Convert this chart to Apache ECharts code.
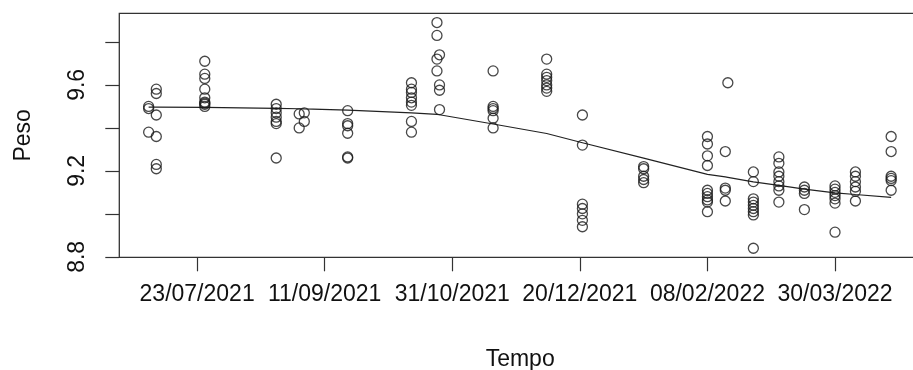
<!DOCTYPE html>
<html>
<head>
<meta charset="utf-8">
<style>
  html, body { margin: 0; padding: 0; background: #fff; }
  #chart { width: 913px; height: 370px; }
</style>
<script src="https://cdn.jsdelivr.net/npm/echarts@6/dist/echarts.min.js"></script>
</head>
<body>
<div id="chart"></div>
<script>
// Weighing dates (dd/mm/yyyy)
const sampleDates = [
  '04/07/2021', '07/07/2021', '26/07/2021', '23/08/2021', '01/09/2021', '03/09/2021',
  '20/09/2021', '15/10/2021', '25/10/2021', '26/10/2021', '16/11/2021', '07/12/2021',
  '21/12/2021', '14/01/2022', '08/02/2022', '15/02/2022', '16/02/2022', '26/02/2022',
  '08/03/2022', '18/03/2022', '30/03/2022', '07/04/2022', '21/04/2022'
];

// Individual weights recorded on each date
const weightsByDate = [
  [9.50, 9.49, 9.38],
  [9.58, 9.56, 9.46, 9.36, 9.23, 9.21],
  [9.71, 9.65, 9.63, 9.58, 9.54, 9.52, 9.515, 9.51, 9.50],
  [9.51, 9.49, 9.47, 9.45, 9.43, 9.42, 9.26],
  [9.465, 9.40],
  [9.47, 9.43],
  [9.48, 9.42, 9.41, 9.375, 9.265, 9.26],
  [9.61, 9.58, 9.565, 9.54, 9.52, 9.505, 9.43, 9.38],
  [9.89, 9.83, 9.72, 9.665],
  [9.74, 9.60, 9.575, 9.485],
  [9.665, 9.50, 9.49, 9.48, 9.445, 9.40],
  [9.72, 9.65, 9.635, 9.62, 9.60, 9.585, 9.57],
  [9.46, 9.32, 9.045, 9.025, 9.00, 8.97, 8.94],
  [9.22, 9.21, 9.175, 9.16, 9.145],
  [9.36, 9.325, 9.27, 9.225, 9.11, 9.095, 9.08, 9.065, 9.055, 9.01],
  [9.29, 9.12, 9.11, 9.06],
  [9.61],
  [9.195, 9.15, 9.07, 9.055, 9.04, 9.025, 9.01, 8.995, 8.84],
  [9.265, 9.235, 9.195, 9.175, 9.15, 9.13, 9.11, 9.055],
  [9.125, 9.11, 9.095, 9.02],
  [9.13, 9.115, 9.10, 9.085, 9.07, 9.05, 8.915],
  [9.195, 9.175, 9.15, 9.125, 9.105, 9.06],
  [9.36, 9.29, 9.175, 9.165, 9.155, 9.11]
];

// Smoothed trend evaluated at each date
const fittedWeight = [
  9.497, 9.497, 9.495, 9.491, 9.489, 9.488, 9.483, 9.470, 9.463, 9.461, 9.418, 9.374,
  9.331, 9.259, 9.184, 9.172, 9.170, 9.149, 9.133, 9.115, 9.098, 9.090, 9.077
];

// Axis ticks
const xTickLabels = ['23/07/2021', '11/09/2021', '31/10/2021', '20/12/2021', '08/02/2022', '30/03/2022'];
const yTicks = [8.8, 9.0, 9.2, 9.4, 9.6, 9.8];
const yTickLabels = [8.8, 9.2, 9.6];

// Dates are placed on a day scale counted from the first x tick
function dayNumber(s) {
  const [d, m, y] = s.split('/').map(Number);
  return Math.round(Date.UTC(y, m - 1, d) / 86400000);
}
const day0 = dayNumber(xTickLabels[0]);
const toX = s => dayNumber(s) - day0;

const points = [];
sampleDates.forEach((d, i) => {
  weightsByDate[i].forEach(w => points.push([toX(d), w]));
});
const trend = sampleDates.map((d, i) => [toX(d), fittedWeight[i]]);
const xTicks = xTickLabels.map(toX);

const FONT = 'Liberation Sans, Arial, sans-serif';
const ink = '#111';

const chart = echarts.init(document.getElementById('chart'), null, { renderer: 'canvas' });
chart.setOption({
  animation: false,
  backgroundColor: '#fff',
  grid: {
    left: 119.3, top: 13.3, right: -8, bottom: 112.7,
    containLabel: false,
    outerBoundsMode: 'none',
    show: true, borderColor: '#333', borderWidth: 1.3, backgroundColor: 'transparent'
  },
  xAxis: {
    type: 'value',
    min: -30.5, max: 283.7,
    name: 'Tempo',
    nameLocation: 'middle',
    nameGap: 91,
    nameTextStyle: { fontFamily: FONT, fontSize: 23, color: ink },
    axisLine: { show: false, onZero: false },
    splitLine: { show: false },
    axisTick: { show: true, length: 14, customValues: xTicks, lineStyle: { color: '#333', width: 1.2 } },
    axisLabel: {
      customValues: xTicks,
      margin: 26,
      fontFamily: FONT, fontSize: 23, color: ink,
      formatter: v => xTickLabels[xTicks.indexOf(Math.round(v))] || ''
    }
  },
  yAxis: {
    type: 'value',
    min: 8.798, max: 9.933,
    name: 'Peso',
    nameLocation: 'middle',
    nameGap: 84,
    nameRotate: 90,
    nameTextStyle: { fontFamily: FONT, fontSize: 23, color: ink },
    axisLine: { show: false, onZero: false },
    splitLine: { show: false },
    axisTick: { show: true, length: 14, customValues: yTicks, lineStyle: { color: '#333', width: 1.2 } },
    axisLabel: {
      customValues: yTickLabels,
      rotate: 90,
      margin: 30,
      fontFamily: FONT, fontSize: 23, color: ink,
      formatter: v => Number(v).toFixed(1)
    }
  },
  series: [
    {
      type: 'scatter',
      data: points,
      symbol: 'circle',
      symbolSize: 10,
      itemStyle: { color: 'rgba(0,0,0,0)', borderColor: '#1a1a1a', borderWidth: 1.3 },
      z: 3
    },
    {
      type: 'line',
      data: trend,
      showSymbol: false,
      smooth: false,
      lineStyle: { color: '#222', width: 1.2 },
      z: 2
    }
  ]
});
</script>
</body>
</html>
